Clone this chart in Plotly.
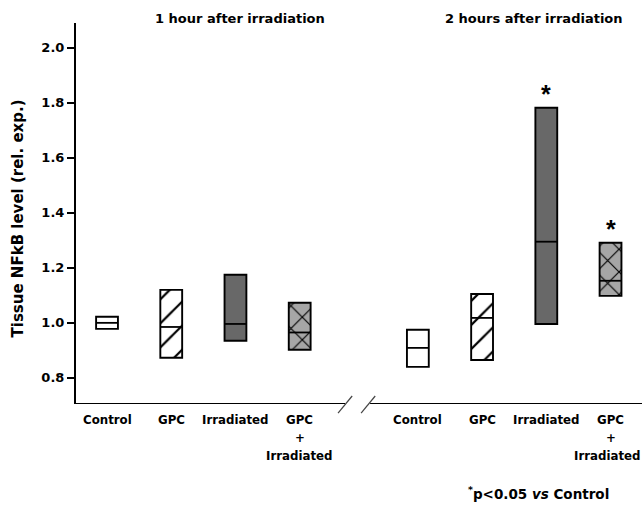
import plotly.graph_objects as go

# ---- data ----
categories = ["Control", "GPC", "Irradiated", "GPC<br>+<br>Irradiated"]
groups = ["1 hour after irradiation", "2 hours after irradiation"]

hour1_low = [0.978, 0.873, 0.935, 0.902]
hour1_high = [1.022, 1.120, 1.175, 1.073]
hour1_median = [1.000, 0.985, 0.996, 0.965]

hour2_low = [0.840, 0.865, 0.996, 1.098]
hour2_high = [0.975, 1.105, 1.782, 1.291]
hour2_median = [0.909, 1.018, 1.295, 1.153]

hour1_significant = [False, False, False, False]
hour2_significant = [False, False, True, True]

y_ticks = [0.8, 1.0, 1.2, 1.4, 1.6, 1.8, 2.0]

# ---- layout helpers ----
pos1 = [0, 1, 2, 3]
pos2 = [4.84, 5.84, 6.84, 7.84]
box_w = 0.34
x_range = [-0.483, 8.33]
y_range = [0.705, 2.09]

styles = [
    dict(color="white", pattern=dict(shape="")),
    dict(color="white", pattern=dict(shape="/", fgcolor="black", bgcolor="white", size=17,
                                     solidity=0.13, fgopacity=1)),
    dict(color="#686868", pattern=dict(shape="")),
    dict(color="#a6a6a6", pattern=dict(shape="x", fgcolor="black", bgcolor="#a6a6a6", size=16,
                                       solidity=0.14, fgopacity=1)),
]

fig = go.Figure()

for pos, low, high in [(pos1, hour1_low, hour1_high), (pos2, hour2_low, hour2_high)]:
    for i in range(4):
        fig.add_trace(go.Bar(
            x=[pos[i]], y=[high[i] - low[i]], base=[low[i]], width=box_w,
            marker=dict(color=styles[i]["color"], pattern=styles[i]["pattern"],
                        line=dict(color="black", width=1.9)),
            showlegend=False, hoverinfo="skip",
        ))

# medians
mx, my = [], []
for pos, med in [(pos1, hour1_median), (pos2, hour2_median)]:
    for p, m in zip(pos, med):
        mx += [p - box_w / 2, p + box_w / 2, None]
        my += [m, m, None]
fig.add_trace(go.Scatter(x=mx, y=my, mode="lines", line=dict(color="black", width=1.8),
                         showlegend=False, hoverinfo="skip"))

bold = dict(family="DejaVu Sans", weight="bold", color="black")
annotations = []

# significance stars
for pos, high, sig in [(pos1, hour1_high, hour1_significant), (pos2, hour2_high, hour2_significant)]:
    for p, h, s in zip(pos, high, sig):
        if s:
            annotations.append(dict(x=p, y=h, xref="x", yref="y", text="*", showarrow=False,
                                    xanchor="center", yanchor="bottom", yshift=-2,
                                    font=dict(size=25, family="Arial", weight="bold", color="black")))

# category labels
for g, pos in enumerate((pos1, pos2)):
    for k, (p, c) in enumerate(zip(pos, categories)):
        lines = c.split("<br>")
        for j, line in enumerate(lines):
            edge = (g == 1 and k == 3 and j == len(lines) - 1)
            annotations.append(dict(x=p, y=0, xref="x", yref="paper", text=line, showarrow=False,
                                    xanchor="center", yanchor="middle", yshift=-(16 + 18 * j),
                                    xshift=-3 if edge else 0,
                                    font=dict(size=11.8, **bold)))

# group titles
for xc, g in zip([0.290, 0.809], groups):
    annotations.append(dict(x=xc, y=1, xref="paper", yref="paper", text=g, showarrow=False,
                            xanchor="center", yanchor="middle", yshift=5,
                            font=dict(size=13, **bold)))

# y-axis title
annotations.append(dict(x=0, y=0.487, xref="paper", yref="paper", xshift=-58,
                        text="Tissue NFkB level (rel. exp.)", textangle=-90, showarrow=False,
                        xanchor="center", yanchor="middle", font=dict(size=15, **bold)))

# footnote
annotations.append(dict(x=0.817, y=0, xref="paper", yref="paper", yshift=-89,
                        text="<sup>*</sup>p&lt;0.05 <i>vs</i> Control", showarrow=False,
                        xanchor="center", yanchor="middle", font=dict(size=13.5, **bold)))

# broken x axis line + break marks
gap_left, gap_right = 3.707, 4.096
shapes = [
    dict(type="line", xref="x", yref="y", x0=x_range[0], x1=gap_left, y0=y_range[0], y1=y_range[0],
         line=dict(color="black", width=2)),
    dict(type="line", xref="x", yref="y", x0=gap_right, x1=x_range[1], y0=y_range[0], y1=y_range[0],
         line=dict(color="black", width=2)),
]
for gx in (gap_left, gap_right - 0.03):
    shapes.append(dict(type="line", xref="x", yref="paper", x0=gx - 0.11, x1=gx + 0.11,
                       y0=-0.024, y1=0.021, line=dict(color="#444", width=1.2)))

fig.update_layout(
    width=642, height=507,
    margin=dict(l=76, r=0, t=23, b=103),
    plot_bgcolor="white", paper_bgcolor="white",
    showlegend=False, barmode="overlay",
    annotations=annotations, shapes=shapes,
    xaxis=dict(range=x_range, showline=False, showgrid=False, zeroline=False,
               showticklabels=False, ticks=""),
    yaxis=dict(range=y_range, showline=True, linecolor="black", linewidth=2,
               showgrid=False, zeroline=False, ticks="outside", ticklen=7, tickwidth=2,
               tickcolor="black", tickvals=y_ticks, tickformat=".1f",
               tickfont=dict(size=13, **bold)),
)

fig.write_html("out.html", config={"displayModeBar": False},
               post_script="document.body.style.margin='0';document.body.style.overflow='hidden';")
